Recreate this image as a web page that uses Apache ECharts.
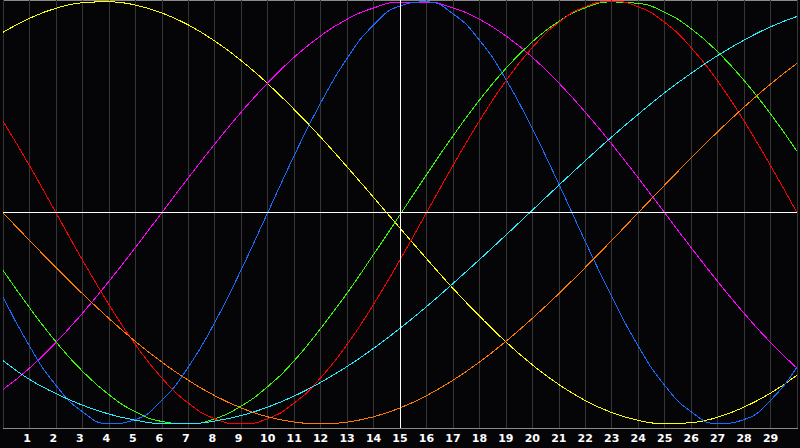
<!DOCTYPE html>
<html>
<head>
<meta charset="utf-8">
<script src="https://cdn.jsdelivr.net/npm/echarts@6/dist/echarts.min.js"></script>
<style>
html,body{margin:0;padding:0;background:#050508;}
#chart{width:800px;height:448px;}
#chart svg path{shape-rendering:crispEdges;}
</style>
</head>
<body>
<div id="chart"></div>
<script>
var xValues = [0,1,2,3,4,5,6,7,8,9,10,11,12,13,14,15,16,17,18,19,20,21,22,23,24,25,26,27,28,29,30];
var yellowValues = [0.854,0.920,0.968,0.994,0.999,0.983,0.946,0.889,0.813,0.720,0.611,0.489,0.358,0.217,0.073,-0.073,-0.217,-0.358,-0.489,-0.611,-0.720,-0.813,-0.889,-0.946,-0.983,-0.999,-0.994,-0.968,-0.920,-0.854,-0.769];
var magentaValues = [-0.837,-0.736,-0.614,-0.476,-0.325,-0.165,0,0.165,0.325,0.476,0.614,0.736,0.837,0.916,0.969,0.997,0.997,0.969,0.916,0.837,0.736,0.614,0.476,0.325,0.165,0,-0.165,-0.325,-0.476,-0.614,-0.736];
var blueValues = [-0.398,-0.631,-0.817,-0.942,-0.998,-0.979,-0.888,-0.731,-0.520,-0.270,0,0.270,0.519,0.731,0.888,0.979,0.998,0.942,0.817,0.631,0.398,0.136,-0.136,-0.398,-0.631,-0.817,-0.942,-0.998,-0.979,-0.888,-0.731];
var greenValues = [-0.273,-0.449,-0.611,-0.750,-0.861,-0.942,-0.988,-0.999,-0.975,-0.915,-0.823,-0.701,-0.548,-0.381,-0.198,-0.010,0.180,0.363,0.533,0.683,0.809,0.906,0.970,0.998,0.991,0.948,0.871,0.762,0.626,0.468,0.291];
var redValues = [0.434,0.223,0,-0.223,-0.434,-0.624,-0.782,-0.901,-0.975,-1,-0.975,-0.901,-0.782,-0.624,-0.434,-0.223,0,0.223,0.434,0.624,0.782,0.901,0.975,1,0.975,0.901,0.782,0.624,0.434,0.223,0];
var cyanValues = [-0.700,-0.789,-0.856,-0.911,-0.953,-0.982,-0.998,-0.999,-0.986,-0.960,-0.920,-0.868,-0.803,-0.728,-0.642,-0.547,-0.445,-0.335,-0.222,-0.106,0.012,0.130,0.246,0.359,0.466,0.568,0.660,0.744,0.817,0.880,0.929];
var orangeValues = [0,-0.131,-0.259,-0.383,-0.5,-0.609,-0.707,-0.793,-0.866,-0.924,-0.966,-0.991,-1,-0.991,-0.966,-0.924,-0.866,-0.793,-0.707,-0.609,-0.5,-0.383,-0.259,-0.131,0,0.131,0.259,0.383,0.5,0.609,0.707];
var centerX = 15;
var centerY = 0;

var seriesDefs = [
  {name:'yellow', color:'#ffff00', values:yellowValues},
  {name:'magenta', color:'#ff00ff', values:magentaValues},
  {name:'blue', color:'#1a6cff', values:blueValues},
  {name:'green', color:'#33ff00', values:greenValues},
  {name:'red', color:'#ff0000', values:redValues},
  {name:'cyan', color:'#22eeff', values:cyanValues},
  {name:'orange', color:'#ff7a00', values:orangeValues}
];

var series = seriesDefs.map(function(d){
  return {
    name:d.name, type:'line', smooth:true, showSymbol:false, silent:true,
    lineStyle:{color:d.color, width:1}, itemStyle:{color:d.color},
    data: xValues.map(function(x,i){ return [x, d.values[i]]; })
  };
});
series.push({
  type:'line', data:[], silent:true,
  markLine:{
    silent:true, symbol:['none','none'], label:{show:false},
    lineStyle:{color:'#ffffff', width:1, type:'solid'},
    data:[{xAxis:centerX},{yAxis:centerY}]
  }
});

var labelFont = {color:'#ffffff', fontFamily:'DejaVu Sans', fontWeight:'bold', fontSize:11};
var chart = echarts.init(document.getElementById('chart'), null, {renderer:'svg'});
chart.setOption({
  backgroundColor:'#050508',
  animation:false,
  grid:{left:0, right:1, top:0, bottom:20, show:true, borderColor:'#8a8a8a', borderWidth:1, backgroundColor:'transparent'},
  xAxis:{
    type:'value', min:0, max:30, interval:1,
    axisLine:{show:true, lineStyle:{color:'#9a9a9a', width:1}},
    axisTick:{show:false},
    splitLine:{show:true, lineStyle:{color:'#363636', width:1}},
    axisLabel:{
      color:'#ffffff', fontFamily:'DejaVu Sans', fontWeight:'bold', fontSize:11, margin:5,
      formatter:function(v){
        if (v===0||v===30) return '';
        return v < 10 ? '{s|' + v + '}' : '{d|' + v + '}';
      },
      rich:{
        s:Object.assign({padding:[0,5,0,0]}, labelFont),
        d:Object.assign({}, labelFont)
      }
    }
  },
  yAxis:{
    type:'value', min:-1.019, max:1.007, show:false,
    splitLine:{show:false}
  },
  series:series
});
</script>
</body>
</html>
